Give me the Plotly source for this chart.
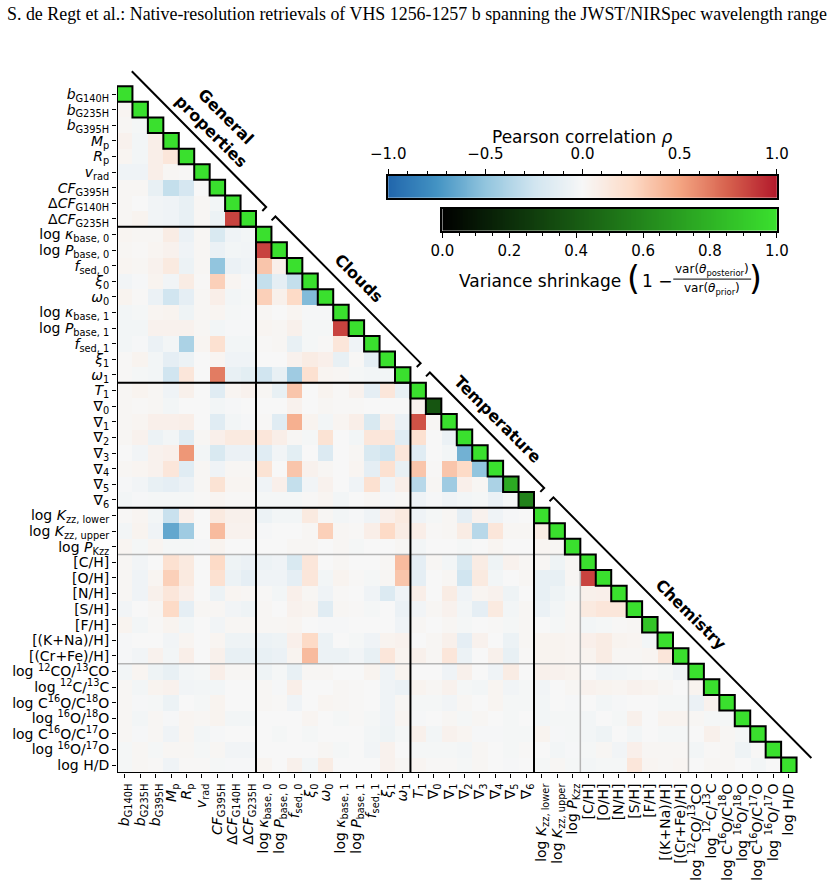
import numpy as np
import plotly.graph_objects as go

labels = [
    "<i>b</i><sub>G140H</sub>", "<i>b</i><sub>G235H</sub>", "<i>b</i><sub>G395H</sub>",
    "<i>M</i><sub>p</sub>", "<i>R</i><sub>p</sub>", "<i>v</i><sub>rad</sub>",
    "<i>CF</i><sub>G395H</sub>", "Δ<i>CF</i><sub>G140H</sub>", "Δ<i>CF</i><sub>G235H</sub>",
    "log <i>κ</i><sub>base, 0</sub>", "log <i>P</i><sub>base, 0</sub>", "<i>f</i><sub>sed, 0</sub>",
    "<i>ξ</i><sub>0</sub>", "<i>ω</i><sub>0</sub>",
    "log <i>κ</i><sub>base, 1</sub>", "log <i>P</i><sub>base, 1</sub>", "<i>f</i><sub>sed, 1</sub>",
    "<i>ξ</i><sub>1</sub>", "<i>ω</i><sub>1</sub>",
    "<i>T</i><sub>1</sub>", "∇<sub>0</sub>", "∇<sub>1</sub>", "∇<sub>2</sub>", "∇<sub>3</sub>",
    "∇<sub>4</sub>", "∇<sub>5</sub>", "∇<sub>6</sub>",
    "log <i>K</i><sub>zz, lower</sub>", "log <i>K</i><sub>zz, upper</sub>", "log <i>P</i><sub>Kzz</sub>",
    "[C/H]", "[O/H]", "[N/H]", "[S/H]", "[F/H]", "[(K+Na)/H]", "[(Cr+Fe)/H]",
    "log <sup>12</sup>CO/<sup>13</sup>CO", "log <sup>12</sup>C/<sup>13</sup>C",
    "log C<sup>16</sup>O/C<sup>18</sup>O", "log <sup>16</sup>O/<sup>18</sup>O",
    "log C<sup>16</sup>O/C<sup>17</sup>O", "log <sup>16</sup>O/<sup>17</sup>O", "log H/D",
]

shrinkage = [1.0, 1.0, 1.0, 1.0, 1.0, 1.0, 1.0, 1.0, 1.0,
             1.0, 1.0, 1.0, 1.0, 1.0, 1.0, 1.0, 1.0, 1.0, 1.0,
             1.0, 0.38, 1.0, 1.0, 1.0, 1.0, 0.76, 0.58,
             1.0, 1.0, 1.0, 1.0, 1.0, 1.0, 1.0, 0.88, 1.0, 1.0,
             1.0, 1.0, 1.0, 1.0, 1.0, 1.0, 1.0]

rows_general = [
    [],
    [0.03],
    [0.02, -0.02],
    [0.05, -0.03, 0.08],
    [0.03, -0.03, 0.08, 0.15],
    [-0.05, -0.05, 0.08, 0.02, 0.01],
    [0.02, 0.02, -0.1, -0.3, -0.22, 0.0],
    [0.02, 0.0, -0.04, -0.05, -0.1, 0.02, -0.03],
    [0.02, 0.04, -0.04, -0.05, -0.1, 0.02, -0.07, 0.85],
]

rows_clouds = [
    [0.03, 0.02, 0.02, 0.1, -0.08, 0.02, -0.2, -0.05, -0.03],
    [0.02, 0.01, 0.03, 0.05, -0.05, 0.02, -0.08, -0.03, -0.04, 0.85],
    [0.03, 0.02, 0.05, 0.12, -0.07, 0.02, -0.5, -0.08, -0.05, 0.35, 0.07],
    [-0.04, -0.01, 0.04, -0.04, 0.1, 0.01, 0.3, 0.03, -0.01, -0.3, -0.12, -0.3],
    [0.04, 0.01, -0.08, -0.25, -0.12, 0.02, 0.08, -0.03, -0.02, 0.3, 0.06, 0.25, -0.55],
    [-0.03, -0.02, 0.03, 0.04, -0.06, 0.02, 0.03, -0.02, -0.01, 0.02, 0.0, 0.03, -0.01, -0.01],
    [-0.03, -0.03, 0.05, 0.05, 0.05, 0.02, -0.03, -0.01, -0.01, 0.03, 0.02, 0.06, -0.02, -0.02, 0.85],
    [-0.03, -0.01, -0.08, -0.03, -0.4, 0.03, 0.2, -0.03, -0.03, 0.01, 0.02, -0.1, -0.02, 0.01, 0.15, -0.05],
    [0.01, 0.04, -0.03, -0.12, -0.07, 0.0, 0.03, -0.05, -0.05, 0.0, 0.0, 0.05, 0.1, 0.07, -0.1, 0.01, -0.12],
    [0.01, -0.02, -0.03, -0.25, 0.15, 0.0, 0.65, -0.1, -0.13, -0.25, -0.1, -0.45, 0.2, 0.03, 0.02, -0.02, -0.03, -0.03],
]

rows_temperature = [
    [0.02, 0.04, 0.02, -0.05, 0.06, 0.0, -0.15, 0.03, 0.05, 0.02, -0.1, 0.35, 0.0, 0.04, 0.01, 0.05, -0.12, 0.15, -0.1],
    [0.02, 0.01, 0.02, -0.03, 0.0, 0.0, -0.03, -0.01, 0.0, 0.0, 0.0, 0.05, 0.0, 0.02, 0.01, 0.01, 0.0, 0.0, 0.0, 0.05],
    [0.02, 0.03, 0.07, 0.07, 0.08, 0.0, -0.15, -0.03, -0.01, 0.01, -0.15, 0.45, 0.04, -0.03, 0.03, 0.08, -0.2, 0.08, -0.08, 0.8, 0.02],
    [0.02, 0.05, -0.07, -0.03, -0.15, 0.02, 0.07, 0.12, 0.12, 0.15, 0.08, 0.02, -0.02, 0.18, 0.0, -0.03, 0.15, 0.15, -0.15, 0.2, 0.0, -0.08],
    [0.0, -0.04, 0.05, 0.07, 0.55, -0.03, -0.2, -0.08, -0.08, -0.15, -0.04, -0.13, 0.0, -0.18, 0.0, 0.02, -0.2, -0.25, 0.15, -0.15, 0.0, -0.03, -0.6],
    [0.02, 0.03, 0.05, 0.15, -0.15, 0.02, -0.05, 0.02, 0.02, 0.18, 0.0, 0.35, 0.05, 0.02, 0.0, 0.03, -0.12, 0.2, -0.1, 0.35, 0.01, 0.35, 0.25, -0.5],
    [-0.01, -0.04, -0.1, -0.12, -0.08, 0.02, 0.18, 0.03, 0.03, -0.05, 0.07, -0.3, -0.04, 0.05, 0.0, -0.05, 0.2, -0.05, 0.08, -0.35, 0.02, -0.45, 0.07, 0.02, -0.4],
    [-0.03, -0.01, -0.02, -0.02, -0.02, 0.01, 0.03, 0.01, 0.01, -0.02, -0.02, -0.02, 0.01, 0.03, -0.03, 0.0, 0.02, -0.01, 0.01, -0.05, -0.01, -0.05, -0.03, -0.02, -0.08, -0.02],
]

rows_chemistry = [
    [0.01, 0.03, -0.03, -0.28, 0.07, 0.0, 0.12, 0.06, 0.06, -0.07, -0.03, -0.03, 0.12, 0.02, -0.03, -0.01, -0.05, 0.07, 0.12, -0.05, -0.02, 0.02, -0.12, 0.05, -0.05, -0.01, 0.0],
    [-0.03, 0.04, -0.05, -0.65, -0.45, 0.0, 0.4, 0.05, 0.05, -0.01, 0.0, 0.0, 0.02, 0.3, 0.02, 0.01, 0.08, 0.25, 0.1, 0.08, 0.01, 0.02, 0.1, -0.35, 0.15, 0.02, 0.02, 0.1],
    [0.03, -0.02, 0.03, -0.02, -0.02, -0.01, 0.04, 0.0, 0.0, 0.0, 0.0, 0.02, 0.02, 0.0, 0.02, -0.02, 0.0, 0.0, 0.02, -0.03, 0.0, 0.0, -0.02, 0.0, 0.03, 0.0, 0.0, 0.03, 0.02],
    [0.02, -0.04, 0.0, 0.2, 0.12, 0.0, 0.25, -0.06, -0.08, -0.07, -0.05, -0.2, 0.15, 0.0, 0.02, 0.0, 0.0, 0.02, 0.4, -0.12, 0.02, -0.03, -0.2, 0.1, -0.06, 0.05, 0.02, 0.02, -0.06, 0.02],
    [0.02, -0.05, 0.03, 0.3, 0.12, 0.0, 0.2, -0.07, -0.12, -0.05, -0.05, -0.12, 0.15, -0.03, 0.04, 0.01, -0.02, 0.02, 0.35, -0.12, 0.0, 0.02, -0.25, 0.12, -0.03, 0.0, 0.02, -0.1, -0.1, 0.02, 0.85],
    [0.02, -0.05, 0.06, 0.15, 0.07, 0.0, -0.07, 0.03, 0.02, 0.01, -0.03, 0.07, 0.02, -0.05, 0.01, 0.0, -0.05, -0.18, -0.05, 0.08, 0.0, 0.1, -0.05, 0.03, 0.05, -0.06, 0.0, -0.1, -0.06, -0.02, 0.06, 0.07],
    [-0.04, 0.0, 0.02, 0.25, -0.12, 0.02, 0.02, -0.04, -0.06, 0.02, 0.0, 0.05, 0.04, -0.15, 0.02, 0.01, -0.02, 0.0, -0.08, -0.04, 0.02, 0.05, -0.03, -0.12, 0.12, -0.03, 0.02, -0.08, -0.03, 0.02, 0.12, 0.15, 0.15],
    [0.04, -0.03, 0.01, 0.04, -0.03, 0.0, -0.04, 0.02, 0.02, 0.02, 0.02, 0.03, 0.0, -0.01, -0.01, 0.0, 0.0, 0.0, -0.05, 0.02, 0.0, 0.02, -0.02, 0.0, 0.01, -0.02, 0.02, 0.0, -0.02, 0.02, -0.03, -0.02, 0.01, 0.02],
    [-0.01, 0.0, 0.0, -0.04, 0.03, 0.0, 0.03, -0.06, -0.06, -0.07, -0.06, 0.07, 0.25, -0.07, 0.0, -0.02, -0.05, 0.04, 0.05, 0.0, 0.02, 0.06, -0.12, 0.05, 0.0, -0.07, 0.02, 0.04, 0.04, 0.03, 0.07, 0.1, 0.04, 0.03, -0.03],
    [-0.01, -0.04, 0.05, -0.03, 0.08, 0.0, 0.06, -0.1, -0.1, -0.1, -0.08, 0.04, 0.4, -0.07, -0.07, -0.04, -0.1, 0.15, 0.04, 0.06, 0.02, 0.15, -0.07, 0.0, 0.06, -0.1, 0.01, 0.04, 0.04, 0.03, 0.04, 0.1, 0.02, 0.02, 0.03, 0.15],
    [-0.03, 0.03, -0.06, -0.1, -0.03, -0.02, 0.08, 0.02, 0.02, -0.06, -0.02, -0.1, 0.02, 0.02, 0.0, 0.0, 0.04, -0.05, 0.04, 0.0, 0.0, -0.05, 0.06, 0.0, -0.05, 0.1, 0.0, 0.06, 0.05, 0.04, 0.0, -0.04, -0.03, -0.02, 0.0, -0.02, -0.05],
    [0.02, -0.03, 0.04, 0.05, -0.04, -0.03, -0.03, 0.0, 0.0, 0.02, -0.01, 0.08, 0.0, 0.0, 0.02, 0.01, 0.0, -0.05, -0.08, 0.04, 0.02, 0.05, -0.02, -0.03, 0.03, -0.04, -0.02, -0.04, 0.0, 0.02, 0.05, 0.04, 0.03, 0.05, 0.04, 0.02, 0.0, 0.04],
    [0.02, -0.01, -0.02, -0.07, 0.0, -0.02, 0.04, 0.0, 0.0, 0.02, 0.01, -0.05, 0.0, 0.03, 0.02, 0.01, 0.0, -0.05, 0.02, -0.02, -0.02, -0.04, 0.02, 0.0, 0.03, -0.02, -0.02, -0.03, 0.0, -0.01, 0.0, -0.03, -0.01, 0.0, 0.0, -0.02, -0.02, -0.08, 0.05],
    [0.02, -0.03, 0.02, -0.01, 0.03, 0.02, 0.04, -0.03, -0.03, 0.0, 0.0, 0.0, 0.03, 0.0, -0.02, 0.01, -0.02, -0.05, 0.03, -0.01, 0.0, 0.02, -0.02, 0.02, 0.0, -0.02, 0.0, -0.03, -0.02, -0.02, -0.03, 0.0, -0.02, 0.06, 0.0, 0.04, 0.04, 0.02, -0.02, -0.02],
    [0.02, -0.01, 0.02, -0.05, 0.03, -0.03, -0.01, 0.0, 0.0, 0.0, -0.02, 0.0, -0.02, 0.0, 0.0, 0.0, -0.03, -0.06, -0.02, 0.06, -0.03, 0.05, 0.03, -0.01, -0.01, -0.02, -0.02, 0.04, -0.01, -0.02, -0.03, -0.06, 0.0, -0.03, 0.0, -0.02, -0.02, 0.0, 0.06, 0.02, -0.02],
    [-0.02, 0.02, -0.02, 0.02, 0.02, -0.02, 0.02, -0.04, -0.04, 0.0, 0.0, 0.0, 0.0, 0.02, -0.02, 0.0, -0.04, 0.05, 0.0, -0.02, -0.02, -0.02, -0.03, 0.02, 0.0, -0.02, 0.01, 0.0, -0.03, -0.01, -0.02, 0.02, -0.04, 0.07, 0.02, 0.02, 0.02, -0.03, 0.01, 0.02, -0.06, 0.01],
    [-0.02, 0.02, 0.01, -0.05, 0.01, 0.01, -0.02, -0.01, -0.01, 0.03, 0.0, 0.06, -0.03, 0.1, 0.0, 0.0, 0.0, 0.05, 0.02, 0.03, 0.01, 0.01, -0.02, 0.02, 0.0, -0.01, 0.0, -0.02, 0.02, -0.02, -0.03, -0.02, -0.02, 0.15, 0.03, 0.02, 0.03, 0.0, 0.02, 0.02, 0.0, -0.03, 0.0],
]

group_bounds = [0, 9, 19, 27, 44]
group_names = ["General<br>properties", "Clouds", "Temperature", "Chemistry"]
minor_bounds = [30, 37]
corr_ticks = [-1.0, -0.5, 0.0, 0.5, 1.0]
corr_ticktext = ["−1.0", "−0.5", "0.0", "0.5", "1.0"]
shrink_ticks = [0.0, 0.2, 0.4, 0.6, 0.8, 1.0]
shrink_ticktext = ["0.0", "0.2", "0.4", "0.6", "0.8", "1.0"]

n = len(labels)
rows = rows_general + rows_clouds + rows_temperature + rows_chemistry
corr = np.full((n, n), np.nan)
for i, r in enumerate(rows):
    assert len(r) == i, (i, len(r))
    corr[i, :i] = r
diag = np.full((n, n), np.nan)
for i in range(n):
    diag[i, i] = shrinkage[i]

rdbu = [[0, '#2166ac'], [0.125, '#4393c3'], [0.25, '#92c5de'], [0.375, '#d1e5f0'],
        [0.5, '#f7f7f7'], [0.625, '#fddbc7'], [0.75, '#f4a582'], [0.875, '#d6604d'],
        [1, '#b2182b']]
greens = [[0, '#000000'], [1, '#3ae02e']]

W, H = 836, 893
L, R, T, B = 117.0, 14.34, 54.68, 118.0
PW, PH = W - L - R, H - T - B


def px(xp):
    return (xp - L) / PW


def py(yp):
    return (H - B - yp) / PH


FONT = "DejaVu Sans"
idx = list(range(n))

fig = go.Figure()
fig.add_trace(go.Heatmap(z=corr, x=idx, y=idx, colorscale=rdbu, zmin=-1, zmax=1,
                         showscale=False, hoverinfo='skip'))
fig.add_trace(go.Heatmap(z=diag, x=idx, y=idx, colorscale=greens, zmin=0, zmax=1,
                         showscale=False, hoverinfo='skip'))

# colour bar gradients
cvals = np.linspace(-1, 1, 401)
fig.add_trace(go.Heatmap(z=[cvals], x=cvals, y=[0], colorscale=rdbu, zmin=-1, zmax=1,
                         showscale=False, hoverinfo='skip', xaxis='x2', yaxis='y2'))
svals = np.linspace(0, 1, 201)
fig.add_trace(go.Heatmap(z=[svals], x=svals, y=[0], colorscale=greens, zmin=0, zmax=1,
                         showscale=False, hoverinfo='skip', xaxis='x3', yaxis='y3'))

shapes = []
# group separators
for k in minor_bounds:
    s = k - 0.5
    shapes.append(dict(type='line', x0=-0.5, y0=s, x1=s, y1=s, line=dict(color='#b4b4b4', width=1.5)))
    shapes.append(dict(type='line', x0=s, y0=s, x1=s, y1=n - 0.5, line=dict(color='#b4b4b4', width=1.5)))
for k in group_bounds[1:-1]:
    s = k - 0.5
    shapes.append(dict(type='line', x0=-0.5, y0=s, x1=s, y1=s, line=dict(color='black', width=2)))
    shapes.append(dict(type='line', x0=s, y0=s, x1=s, y1=n - 0.5, line=dict(color='black', width=2)))
# spines
shapes.append(dict(type='line', x0=-0.5, y0=-0.5, x1=-0.5, y1=n - 0.5, line=dict(color='black', width=2)))
shapes.append(dict(type='line', x0=-0.5, y0=n - 0.5, x1=n - 0.5, y1=n - 0.5, line=dict(color='black', width=2)))
# diagonal borders
for i in range(n):
    shapes.append(dict(type='rect', x0=i - 0.5, y0=i - 0.5, x1=i + 0.5, y1=i + 0.5,
                       line=dict(color='black', width=2), fillcolor='rgba(0,0,0,0)'))
# bracket lines
off = 0.958
gap = 0.3
hook = 0.25
for g in range(len(group_bounds) - 1):
    a, b = group_bounds[g], group_bounds[g + 1]
    t0 = a - 0.5 + (gap if g > 0 else 0)
    t1 = b - 0.5 - (gap if g < len(group_bounds) - 2 else 0)
    pts = []
    if g > 0:
        pts.append((t0 + off - hook, t0 - off + hook))
    pts.append((t0 + off, t0 - off))
    pts.append((t1 + off, t1 - off))
    if g < len(group_bounds) - 2:
        pts.append((t1 + off - hook, t1 - off + hook))
    path = "M " + " L ".join(f"{x:.4f},{y:.4f}" for x, y in pts)
    shapes.append(dict(type='path', path=path, line=dict(color='black', width=2)))

# fraction bar of the shrinkage label
shapes.append(dict(type='line', xref='paper', yref='paper', x0=px(681), x1=px(760),
                   y0=py(279.5), y1=py(279.5), line=dict(color='black', width=1)))

annotations = []
for g, name in enumerate(group_names):
    a, b = group_bounds[g], group_bounds[g + 1]
    m = (a + b) / 2 - 0.5
    d = 2.05 if g == 0 else 1.66
    annotations.append(dict(x=m + d, y=m - d, xref='x', yref='y', text=f"<b>{name}</b>",
                            textangle=45, showarrow=False, xanchor='center', yanchor='middle',
                            font=dict(family=FONT, size=16, color='black')))


def ptext(x, y, text, size, xanchor='center'):
    return dict(x=px(x), y=py(y), xref='paper', yref='paper', text=text, showarrow=False,
                xanchor=xanchor, yanchor='middle', font=dict(family=FONT, size=size, color='black'))


annotations += [
    ptext(589, 137, "Pearson correlation <i>ρ</i>", 17),
    ptext(462, 281, "Variance shrinkage", 17, 'left'),
    ptext(641, 279, "(", 33),
    ptext(764, 279, ")", 33),
    ptext(647, 281, "1 −", 17, 'left'),
    ptext(720, 270, "var(<i>θ</i><sub>posterior</sub>)", 12),
    ptext(720, 289, "var(<i>θ</i><sub>prior</sub>)", 12),
]

fig.update_layout(
    width=W, height=H,
    margin=dict(l=L, r=R, t=T, b=B, pad=0),
    paper_bgcolor='white', plot_bgcolor='white',
    showlegend=False,
    title=dict(text="S. de Regt et al.: Native-resolution retrievals of VHS 1256-1257 b spanning the JWST/NIRSpec wavelength range",
               x=417 / W, xref='container', xanchor='center', y=1 - 14 / H, yref='container', yanchor='middle',
               font=dict(family="Liberation Serif", size=17.9, color='black')),
    xaxis=dict(range=[-0.5, n + 0.5], tickvals=idx, ticktext=labels, tickangle=-90,
               ticks='outside', ticklen=4, tickwidth=1, tickcolor='black',
               showgrid=False, zeroline=False, showline=False,
               tickfont=dict(family=FONT, size=14, color='black')),
    yaxis=dict(range=[n - 0.5, -2.5], tickvals=idx, ticktext=labels,
               ticks='outside', ticklen=4, tickwidth=1, tickcolor='black',
               showgrid=False, zeroline=False, showline=False,
               tickfont=dict(family=FONT, size=14, color='black')),
    xaxis2=dict(domain=[px(392), px(786)], anchor='y2', range=[-1, 1], side='top',
                tickvals=corr_ticks, ticktext=corr_ticktext, ticks='outside', ticklen=5,
                ticklabelstandoff=4,
                tickcolor='black', minor=dict(ticks='outside', dtick=0.1, ticklen=3, tickcolor='black', showgrid=False),
                showgrid=False, zeroline=False, showline=True, mirror=True, linecolor='black', linewidth=1.5,
                tickfont=dict(family=FONT, size=15, color='black')),
    yaxis2=dict(domain=[py(198), py(176)], anchor='x2', range=[-0.5, 0.5], showticklabels=False,
                ticks='', showgrid=False, zeroline=False, showline=True, mirror=True,
                linecolor='black', linewidth=1.5),
    xaxis3=dict(domain=[px(447), px(786)], anchor='y3', range=[0, 1], side='bottom',
                tickvals=shrink_ticks, ticktext=shrink_ticktext, ticks='outside', ticklen=5,
                tickcolor='black', minor=dict(ticks='outside', dtick=0.05, ticklen=3, tickcolor='black', showgrid=False),
                showgrid=False, zeroline=False, showline=True, mirror=True, linecolor='black', linewidth=1.5,
                tickfont=dict(family=FONT, size=15, color='black')),
    yaxis3=dict(domain=[py(231), py(209)], anchor='x3', range=[-0.5, 0.5], showticklabels=False,
                ticks='', showgrid=False, zeroline=False, showline=True, mirror=True,
                linecolor='black', linewidth=1.5),
    shapes=shapes,
    annotations=annotations,
)

fig.write_html("out.html")
